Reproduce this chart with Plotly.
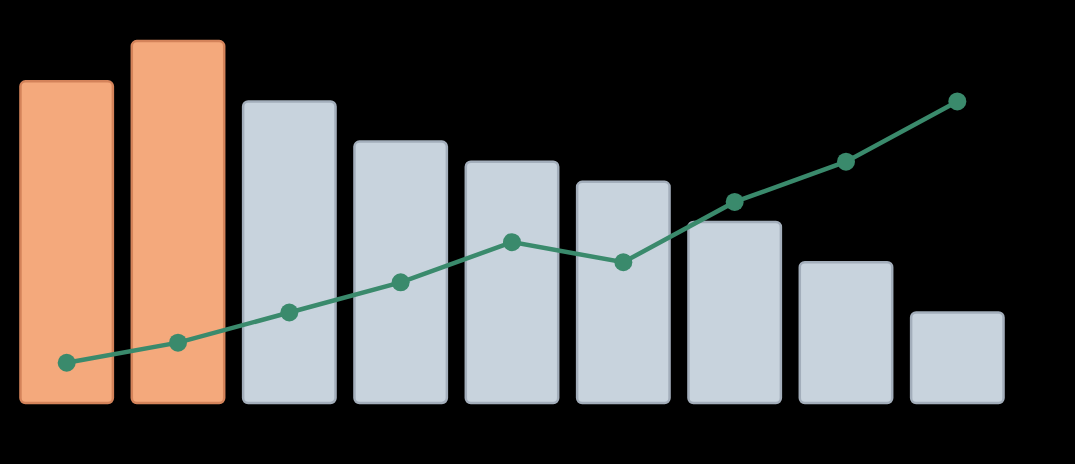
import plotly.graph_objects as go

# Data
categories = ["A", "B", "C", "D", "E", "F", "G", "H", "I"]
bar_values = [80, 90, 75, 65, 60, 55, 45, 35, 22.5]
line_values = [10, 15, 22.5, 30, 40, 35, 50, 60, 75]
highlighted = ["A", "B"]

# Colours
fill_hi = "#F4A97C"
edge_hi = "#D4835A"
fill_lo = "#C8D3DD"
edge_lo = "#A3AEBB"
green = "#3A8A6C"

bar_fill = [fill_hi if c in highlighted else fill_lo for c in categories]
bar_edge = [edge_hi if c in highlighted else edge_lo for c in categories]

fig = go.Figure()

# explicit base so plotly rounds both ends of the bar
fig.add_trace(go.Bar(
    x=categories, y=bar_values, base=[0] * len(categories), width=0.83,
    marker=dict(color=bar_fill, line=dict(color=bar_edge, width=2.5)),
    hoverinfo="skip",
))

fig.add_trace(go.Scatter(
    x=categories, y=line_values,
    mode="lines+markers",
    line=dict(color=green, width=4.5),
    marker=dict(color=green, size=18),
    hoverinfo="skip",
))

fig.update_layout(
    width=1075, height=464,
    paper_bgcolor="black", plot_bgcolor="black",
    margin=dict(l=11, r=62, t=21, b=53),
    showlegend=False,
    barcornerradius=5,
    xaxis=dict(visible=False, range=[-0.5, 8.5]),
    yaxis=dict(visible=False, range=[-2, 95]),
)

fig.write_html(
    "out.html",
    config={"displayModeBar": False},
    post_script="document.body.style.margin='0';document.body.style.background='black';",
)
